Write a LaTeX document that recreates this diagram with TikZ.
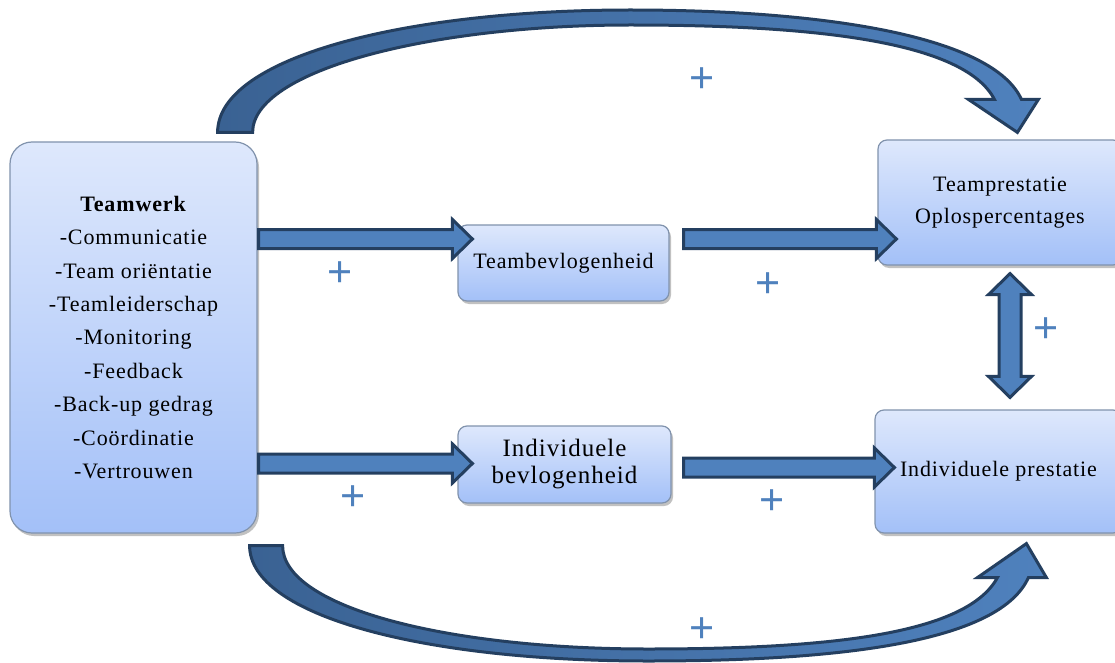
\documentclass[tikz,border=0pt]{standalone}
\usepackage{fontspec}
\setmainfont{Liberation Serif}[LetterSpace=4]
\newfontfamily\plusfont{Liberation Sans}
\usetikzlibrary{calc,shadows}
\definecolor{boxtop}{HTML}{DEE8FC}
\definecolor{boxbot}{HTML}{A3C0F8}
\definecolor{boxline}{HTML}{8193AD}
\definecolor{arrline}{HTML}{243F60}
\definecolor{arrfill}{HTML}{4F81BD}
\definecolor{arrdark}{HTML}{3A6293}
\definecolor{pluscol}{HTML}{4F81BD}
\tikzset{
  box/.style={draw=boxline, line width=1.2pt, top color=boxtop, bottom color=boxbot,
    rounded corners=9pt, inner sep=0pt, align=center,
    drop shadow={shadow xshift=2pt, shadow yshift=-3pt, opacity=0.4, fill=black!60}},
  boxtext/.style={font=\fontsize{22}{32}\selectfont},
  blockarrow/.style={draw=arrline, fill=arrfill, line width=3pt, line join=miter},
  curvearrow/.style={draw=arrline, line width=3pt, left color=arrdark, right color=arrfill, line join=miter},
  plus/.style={font=\plusfont\fontsize{43}{43}\selectfont, text=pluscol, inner sep=0pt},
}
\newcommand{\harr}[2]{%
  \draw[blockarrow] let \p1=#1, \p2=#2 in
    (\x1,\y1+9.5pt) -- (\x2-20pt,\y1+9.5pt) -- (\x2-20pt,\y1+19.5pt) -- (\x2,\y1)
    -- (\x2-20pt,\y1-19.5pt) -- (\x2-20pt,\y1-9.5pt) -- (\x1,\y1-9.5pt) -- cycle;}
\begin{document}
\begin{tikzpicture}[x=1pt,y=-1pt]
\fill[white] (0,0) rectangle (1115,663);
\useasboundingbox (0,0) rectangle (1115,663);

% boxes
\node[box, rounded corners=22pt, minimum width=247pt, minimum height=391pt,
      font=\fontsize{22}{33.4}\selectfont] (tw) at (133.5,337.5)
  {\textbf{Teamwerk}\\-Communicatie\\-Team oriëntatie\\-Teamleiderschap\\-Monitoring\\-Feedback\\-Back-up gedrag\\-Coördinatie\\-Vertrouwen};
\node[box, boxtext, minimum width=211pt, minimum height=76pt] (tb) at (563.5,263) {Teambevlogenheid};
\node[box, font=\fontsize{25}{27}\selectfont, minimum width=213pt, minimum height=77pt] (ib) at (564.5,464.5) {Individuele\\bevlogenheid};
\node[box, boxtext, minimum width=244pt, minimum height=125pt] (tp) at (1000,202.5) {Teamprestatie\\Oplospercentages};
\node[box, boxtext, minimum width=247pt, minimum height=123pt] (ip) at (998.5,471.5) {Individuele prestatie};

% straight block arrows
\harr{($(tw.east)+(1,-98.5)$)}{($(tb.west)+(15,-24)$)}
\harr{($(tb.east)+(14,-24)$)}{($(tp.west)+(19,36.5)$)}
\harr{($(tw.east)+(1,126)$)}{($(ib.west)+(15,-1)$)}
\harr{($(ib.east)+(12,3)$)}{($(ip.west)+(20,-4)$)}

% vertical double arrow
\draw[blockarrow] let \p1=($(tp.south)+(10,8)$), \p2=($(ip.north)+(11.5,-12)$) in
  (\x1,\y1) -- (\x1+21.5pt,\y1-21pt) -- (\x1+11pt,\y1-21pt) -- (\x1+11pt,\y2+21pt)
  -- (\x1+21.5pt,\y2+21pt) -- (\x1,\y2) -- (\x1-21.5pt,\y2+21pt) -- (\x1-11pt,\y2+21pt)
  -- (\x1-11pt,\y1-21pt) -- (\x1-21.5pt,\y1-21pt) -- cycle;

% curved arrows
\coordinate (ts) at ($(tw.north east)+(-23,-9)$);
\coordinate (te) at ($(tp.north west)+(140,-7)$);
\draw[curvearrow] ($(ts)+(-17,0)$) .. controls +(0,-75) and +(-225,0) .. (630,10)
  .. controls +(200,0) and +(-28,-62) .. ($(te)+(4,-33)$)
  -- ($(te)+(21,-33)$) -- (te) -- ($(te)+(-49,-33)$) -- ($(te)+(-23,-33)$)
  .. controls +(-30,-58) and +(185,0) .. (630,25)
  .. controls +(-200,0) and +(0,-62) .. ($(ts)+(18,0)$) -- cycle;

\coordinate (bs) at ($(tw.south east)+(8,12)$);
\coordinate (be) at ($(ip.south west)+(152,10)$);
\draw[curvearrow] ($(bs)+(-16,0)$) .. controls +(0,70) and +(-225,0) .. (648,661)
  .. controls +(205,0) and +(-28,62) .. ($(be)+(2,34)$)
  -- ($(be)+(20,34)$) -- (be) -- ($(be)+(-49,34)$) -- ($(be)+(-29,34)$)
  .. controls +(-30,55) and +(190,0) .. (648,649)
  .. controls +(-200,0) and +(0,62) .. ($(bs)+(17,0)$) -- cycle;

% plus signs
\node[plus] (p1) at (702,80) {+};
\node[plus] (p2) at (340,274) {+};
\node[plus] (p3) at (768,285) {+};
\node[plus] (p4) at (1046,330) {+};
\node[plus] (p5) at (353,498) {+};
\node[plus] (p6) at (772,502) {+};
\node[plus] (p7) at (702,630) {+};
\end{tikzpicture}
\end{document}
